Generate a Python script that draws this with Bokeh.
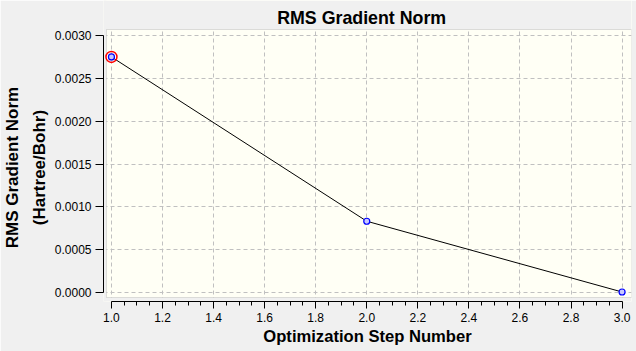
from bokeh.plotting import figure
from bokeh.models import Range1d, FixedTicker, NumeralTickFormatter, BoxAnnotation, ColumnDataSource, Label
from bokeh.embed import file_html
from bokeh.resources import INLINE

# ---- data ----
steps = [1, 2, 3]
rms_gradient = [0.00275, 0.000832, 0.000006]
x_ticks = [1.0, 1.2, 1.4, 1.6, 1.8, 2.0, 2.2, 2.4, 2.6, 2.8, 3.0]
y_ticks = [0.0, 0.0005, 0.0010, 0.0015, 0.0020, 0.0025, 0.0030]
title_text = "RMS Gradient Norm"
x_label = "Optimization Step Number"
y_label_lines = ["RMS Gradient Norm", "(Hartree/Bohr)"]

# ---- layout constants (pixels) ----
W, H = 636, 351
frame_l, frame_r, frame_t, frame_b = 99, 631, 0, 301
x0_px, x1_px = 107.0, 621.5     # pixel positions of x=1.0 and x=3.0
y0_px, y1_px = 292.0, 35.0      # pixel positions of y=0 and y=0.003
box_l_px, box_t_px, box_b_px = 102, 29, 297   # inner (cream) plot box
title_x_px, title_base_px = 274, 17
ylabel_pad = "\u00a0" * 7       # shifts the rotated y label down toward the box centre

xs = (x1_px - x0_px) / (x_ticks[-1] - x_ticks[0])
ys = (y0_px - y1_px) / (y_ticks[-1] - y_ticks[0])
def xd(px):
    return x_ticks[0] + (px - x0_px) / xs
def yd(px):
    return y_ticks[0] + (y0_px - px) / ys

BG = "#f0f0f0"
CREAM = "#fffff5"
FONT = "Liberation Sans"

p = figure(width=W, height=H, output_backend="svg", toolbar_location=None, title=None,
           x_range=Range1d(xd(frame_l), xd(frame_r)), y_range=Range1d(yd(frame_b), yd(frame_t)),
           min_border_left=frame_l, min_border_right=W - frame_r,
           min_border_top=frame_t, min_border_bottom=H - frame_b)

p.background_fill_color = CREAM
p.border_fill_color = BG
p.outline_line_color = None

# grids
for g in (p.xgrid, p.ygrid):
    g.grid_line_color = "#c0c0c0"
    g.grid_line_dash = "4 3"
    g.grid_line_width = 1
    g.level = "image"
p.xgrid.ticker = FixedTicker(ticks=x_ticks)
p.ygrid.ticker = FixedTicker(ticks=y_ticks)

# axes
minor_x = []
for i in range(len(x_ticks) - 1):
    for k in range(1, 4):
        minor_x.append(x_ticks[i] + (x_ticks[i + 1] - x_ticks[i]) * k / 4)
p.xaxis.ticker = FixedTicker(ticks=x_ticks, minor_ticks=minor_x)
p.yaxis.ticker = FixedTicker(ticks=y_ticks)
p.xaxis.formatter = NumeralTickFormatter(format="0.0")
p.yaxis.formatter = NumeralTickFormatter(format="0.0000")
p.xaxis.bounds = (x_ticks[0], x_ticks[-1])
p.yaxis.bounds = (y_ticks[0], y_ticks[-1])

for ax in (p.xaxis[0], p.yaxis[0]):
    ax.axis_line_color = "black"
    ax.major_tick_line_color = "black"
    ax.minor_tick_line_color = "black"
    ax.major_tick_in = 0
    ax.minor_tick_in = 0
    ax.major_label_text_font = FONT
    ax.major_label_text_font_size = "12px"
    ax.major_label_text_color = "black"
    ax.axis_label_text_font = FONT
    ax.axis_label_text_font_style = "bold"
    ax.axis_label_text_color = "black"

p.xaxis.major_tick_out = 7
p.xaxis.minor_tick_out = 4
p.xaxis.major_label_standoff = 4
p.xaxis.axis_label = x_label
p.xaxis.axis_label_text_font_size = "16.6px"
p.xaxis.axis_label_standoff = 2

p.yaxis.major_tick_out = 8
p.yaxis.minor_tick_line_color = None
p.yaxis.major_label_standoff = 4
p.yaxis.axis_label = "\n".join(line + ylabel_pad for line in y_label_lines)
p.yaxis.axis_label_text_font_size = "17px"
p.yaxis.axis_label_text_line_height = 1.4
p.yaxis.axis_label_standoff = 3

# plot box: background strips around the box, and box outline
p.add_layout(BoxAnnotation(right=xd(box_l_px), fill_color=BG, fill_alpha=1, line_color=None, level="underlay"))
p.add_layout(BoxAnnotation(top=yd(box_b_px), fill_color=BG, fill_alpha=1, line_color=None, level="underlay"))
p.add_layout(BoxAnnotation(bottom=yd(box_t_px), fill_color=BG, fill_alpha=1, line_color=None, level="underlay"))
p.add_layout(BoxAnnotation(left=xd(box_l_px), bottom=yd(box_b_px), top=yd(box_t_px),
                           fill_color=None, fill_alpha=0,
                           line_color="#9a9a9a", line_width=1, level="underlay"))

# title
p.add_layout(Label(x=xd(title_x_px), y=yd(title_base_px), text=title_text,
                   text_font=FONT, text_font_size="17.8px", text_font_style="bold",
                   text_color="black", text_baseline="alphabetic", text_align="left"))

src = ColumnDataSource(dict(x=steps, y=rms_gradient))
p.line("x", "y", source=src, line_color="black", line_width=1)
p.scatter("x", "y", source=src, size=6, marker="circle", line_color="#0000ff",
          fill_color="#c8c8ff", line_width=1.2)
p.scatter(steps[:1], rms_gradient[:1], size=11, marker="circle", line_color="#ff0000",
          fill_color=None, line_width=1.5)

open("out.html", "w").write(file_html(p, INLINE))
